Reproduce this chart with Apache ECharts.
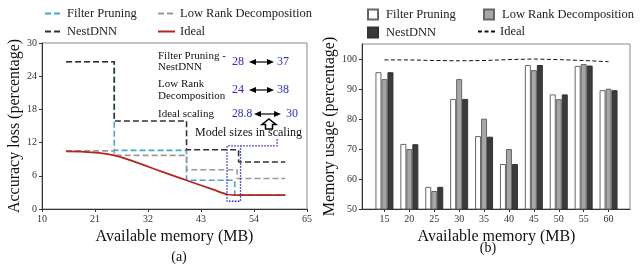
<!DOCTYPE html>
<html><head><meta charset="utf-8">
<script src="https://cdn.jsdelivr.net/npm/echarts@6.0.0/dist/echarts.min.js"></script>
<style>html,body{margin:0;padding:0;background:#fff}#c{width:640px;height:271px}</style>
</head><body><div id="c"></div>
<script>
// ---------- Chart (a): accuracy loss vs available memory ----------
const fpX   = [15, 25, 25, 40, 40, 50, 50, 60.5];
const fpY   = [26.6, 26.6, 10.6, 10.6, 5.2, 5.2, 2.5, 2.5];
const lrdX  = [15, 25, 25, 40, 40, 50.5, 50.5, 60.5];
const lrdY  = [10.5, 10.5, 9.7, 9.7, 7.1, 7.1, 5.5, 5.5];
const nestX = [15, 25, 25, 40, 40, 50.8, 50.8, 60.5];
const nestY = [26.6, 26.6, 15.9, 15.9, 10.7, 10.7, 8.5, 8.5];
const idealX = [15, 21, 25, 30, 35, 40, 45, 50, 55, 60.5];
const idealY = [10.4, 10.2, 9.7, 8.3, 6.7, 5.2, 3.7, 2.5, 2.5, 2.5];
const scaleBoxX = [58.8, 58.8, 48.4, 48.4, 51.2, 51.2];
const scaleBoxY = [12.6, 11.4, 11.4, 1.4, 1.4, 11.4];
const leftXTicks = [10, 21, 32, 43, 54, 65];
const leftYTicks = [0, 6, 12, 18, 24, 30];

// ---------- Chart (b): memory usage ----------
const barCategories = ['15', '20', '25', '30', '35', '40', '45', '50', '55', '60'];
const fpUsage   = [95.6, 71.7, 57.4, 86.7, 74.3, 65.0, 98.0, 88.2, 97.7, 89.6];
const lrdUsage  = [93.3, 70.0, 56.0, 93.3, 80.1, 70.0, 96.3, 86.6, 98.3, 90.1];
const nestUsage = [95.6, 71.6, 57.4, 86.7, 74.1, 65.0, 98.0, 88.2, 97.8, 89.6];
const idealUsage = [99.7, 99.7, 99.5, 99.4, 99.5, 99.8, 100.0, 99.8, 99.5, 99.1];
const rightYTicks = [50, 60, 70, 80, 90, 100];

const SERIF = '"Liberation Serif", "Times New Roman", serif';
const zip = (xs, ys) => xs.map((x, i) => [x, ys[i]]);

const axisLabelStyle = { fontFamily: SERIF, fontSize: 10, color: '#333' };
const nameStyle = { fontFamily: SERIF, fontSize: 16, color: '#111' };
const axisLineStyle = { lineStyle: { color: '#333', width: 1 } };

function dblArrow(x1, x2, y) {
  return [
    { type: 'line', shape: { x1: x1 + 4, y1: y, x2: x2 - 4, y2: y }, style: { stroke: '#000', lineWidth: 1.2 } },
    { type: 'polygon', shape: { points: [[x1, y], [x1 + 7, y - 3], [x1 + 7, y + 3]] }, style: { fill: '#000' } },
    { type: 'polygon', shape: { points: [[x2, y], [x2 - 7, y - 3], [x2 - 7, y + 3]] }, style: { fill: '#000' } }
  ];
}
function txt(x, y, text, color, size) {
  return { type: 'text', x: x, y: y, style: { text: text, font: (size || 12) + 'px ' + SERIF, fill: color || '#111', align: 'left', verticalAlign: 'middle' } };
}

const lineLegend = (name, left, top) => ({
  data: [name], left: left, top: top, padding: 0, itemWidth: 17, itemHeight: 12,
  itemStyle: { opacity: 0 },
  textStyle: { fontFamily: SERIF, fontSize: 12.5, color: '#222' }
});
const barLegend = (name, left, top, w) => ({
  data: [name], left: left, top: top, padding: 0, itemWidth: w, itemHeight: 10, icon: 'rect',
  textStyle: { fontFamily: SERIF, fontSize: 12.5, color: '#222', padding: [0, 0, 0, 3] }
});

const option = {
  animation: false,
  backgroundColor: '#fff',
  legend: [
    lineLegend('Filter Pruning', 44, 7),
    lineLegend('Low Rank Decomposition', 157, 7),
    lineLegend('NestDNN', 44, 25),
    lineLegend('Ideal', 157, 25),
    barLegend('Filter Pruning ', 367, 8, 10),
    barLegend('Low Rank Decomposition ', 483, 8, 10),
    barLegend('NestDNN ', 367, 26, 10),
    lineLegend('Ideal ', 477, 25)
  ],
  grid: [
    { left: 42, top: 43, width: 265, height: 166, show: true, borderColor: '#888', borderWidth: 1, backgroundColor: 'transparent' },
    { left: 372, top: 44, width: 249, height: 165 },
    { left: 362, top: 44, width: 268, height: 165, show: true, borderColor: '#888', borderWidth: 1, backgroundColor: 'transparent' }
  ],
  xAxis: [
    { gridIndex: 0, type: 'value', min: 10, max: 65,
      axisLine: Object.assign({ onZero: false }, axisLineStyle),
      axisTick: { show: true, length: 3, customValues: leftXTicks, lineStyle: { color: '#333' } },
      axisLabel: Object.assign({ customValues: leftXTicks, margin: 5 }, axisLabelStyle),
      splitLine: { show: false },
      name: 'Available memory (MB)', nameLocation: 'middle', nameGap: 18, nameTextStyle: nameStyle },
    { gridIndex: 1, type: 'category', data: barCategories,
      axisLine: { show: false },
      axisTick: { show: true, alignWithLabel: true, length: 3, lineStyle: { color: '#333' } },
      axisLabel: Object.assign({ margin: 5 }, axisLabelStyle),
      name: 'Available memory (MB)', nameLocation: 'middle', nameGap: 18, nameTextStyle: nameStyle },
    { gridIndex: 2, type: 'value', min: 0, max: 1,
      axisLine: Object.assign({ onZero: false }, axisLineStyle),
      axisTick: { show: false }, axisLabel: { show: false }, splitLine: { show: false } }
  ],
  yAxis: [
    { gridIndex: 0, type: 'value', min: 0, max: 30,
      axisLine: Object.assign({ show: true, onZero: false }, axisLineStyle),
      axisTick: { show: true, length: 3, customValues: leftYTicks, lineStyle: { color: '#333' } },
      axisLabel: Object.assign({ customValues: leftYTicks, margin: 5 }, axisLabelStyle),
      splitLine: { show: false },
      name: 'Accuracy loss (percentage)', nameLocation: 'middle', nameGap: 18, nameTextStyle: nameStyle },
    { gridIndex: 1, type: 'value', min: 50, max: 105, show: false, splitLine: { show: false } },
    { gridIndex: 2, type: 'value', min: 50, max: 105,
      axisLine: Object.assign({ show: true, onZero: false }, axisLineStyle),
      axisTick: { show: true, length: 3, customValues: rightYTicks, lineStyle: { color: '#333' } },
      axisLabel: Object.assign({ customValues: rightYTicks, margin: 5 }, axisLabelStyle),
      splitLine: { show: false },
      name: 'Memory usage (percentage)', nameLocation: 'middle', nameGap: 18, nameTextStyle: nameStyle }
  ],
  series: [
    { name: 'Filter Pruning', type: 'line', xAxisIndex: 0, yAxisIndex: 0, data: zip(fpX, fpY), symbol: 'none',
      color: '#45a6cf', lineStyle: { color: '#45a6cf', width: 1.6, type: [6, 3] } },
    { name: 'Low Rank Decomposition', type: 'line', xAxisIndex: 0, yAxisIndex: 0, data: zip(lrdX, lrdY), symbol: 'none',
      color: '#9a9a9a', lineStyle: { color: '#9a9a9a', width: 1.6, type: [6, 3] } },
    { name: 'NestDNN', type: 'line', xAxisIndex: 0, yAxisIndex: 0, data: zip(nestX, nestY), symbol: 'none',
      color: '#333', lineStyle: { color: '#333', width: 1.6, type: [6, 3] } },
    { name: 'Ideal', type: 'line', xAxisIndex: 0, yAxisIndex: 0, data: zip(idealX, idealY), symbol: 'none',
      smooth: 0.5, color: '#b3261e', lineStyle: { color: '#b3261e', width: 1.8 } },
    { name: 'scaling', type: 'line', xAxisIndex: 0, yAxisIndex: 0, data: zip(scaleBoxX, scaleBoxY), symbol: 'none',
      color: '#2323c8', lineStyle: { color: '#2323c8', width: 1.3, type: [1.5, 1.5] }, silent: true },

    { name: 'Filter Pruning ', type: 'bar', xAxisIndex: 1, yAxisIndex: 1, data: fpUsage, barWidth: 6, barGap: '0%',
      color: '#ffffff', itemStyle: { color: '#ffffff', borderColor: '#666', borderWidth: 1 } },
    { name: 'Low Rank Decomposition ', type: 'bar', xAxisIndex: 1, yAxisIndex: 1, data: lrdUsage, barWidth: 6, barGap: '0%',
      color: '#a6a6a6', itemStyle: { color: '#a6a6a6', borderColor: '#666', borderWidth: 1 } },
    { name: 'NestDNN ', type: 'bar', xAxisIndex: 1, yAxisIndex: 1, data: nestUsage, barWidth: 6, barGap: '0%',
      color: '#3b3b3b', itemStyle: { color: '#3b3b3b', borderColor: '#333', borderWidth: 1 } },
    { name: 'Ideal ', type: 'line', xAxisIndex: 1, yAxisIndex: 1, data: idealUsage, symbol: 'none',
      color: '#111', lineStyle: { color: '#111', width: 1, type: [4, 2.5] } }
  ],
  graphic: [
    txt(158, 56, 'Filter Pruning -', '#111', 11),
    txt(158, 67, 'NestDNN', '#111', 11),
    txt(232, 62, '28', '#2a2ad0'),
    ...dblArrow(249, 274, 62),
    txt(277, 62, '37', '#2a2ad0'),
    txt(158, 84, 'Low Rank', '#111', 11),
    txt(158, 96, 'Decomposition', '#111', 11),
    txt(232, 90, '24', '#2a2ad0'),
    ...dblArrow(249, 274, 90),
    txt(277, 90, '38', '#2a2ad0'),
    txt(158, 114, 'Ideal scaling', '#111', 11),
    txt(232, 114, '28.8', '#2a2ad0', 11.5),
    ...dblArrow(254, 281, 114),
    txt(286, 114, '30', '#2a2ad0'),
    { type: 'polygon', shape: { points: [[269, 119], [276, 124.5], [272.5, 124.5], [272.5, 129], [265.5, 129], [265.5, 124.5], [262, 124.5]] },
      style: { fill: '#fff', stroke: '#000', lineWidth: 1.5 } },
    txt(195, 133, 'Model sizes in scaling'),
    { type: 'text', x: 179, y: 257, style: { text: '(a)', font: '14px ' + SERIF, fill: '#111', align: 'center', verticalAlign: 'middle' } },
    { type: 'text', x: 488, y: 248, style: { text: '(b)', font: '14px ' + SERIF, fill: '#111', align: 'center', verticalAlign: 'middle' } }
  ]
};

const chart = echarts.init(document.getElementById('c'), null, { renderer: 'canvas' });
chart.setOption(option);
</script>
</body></html>
